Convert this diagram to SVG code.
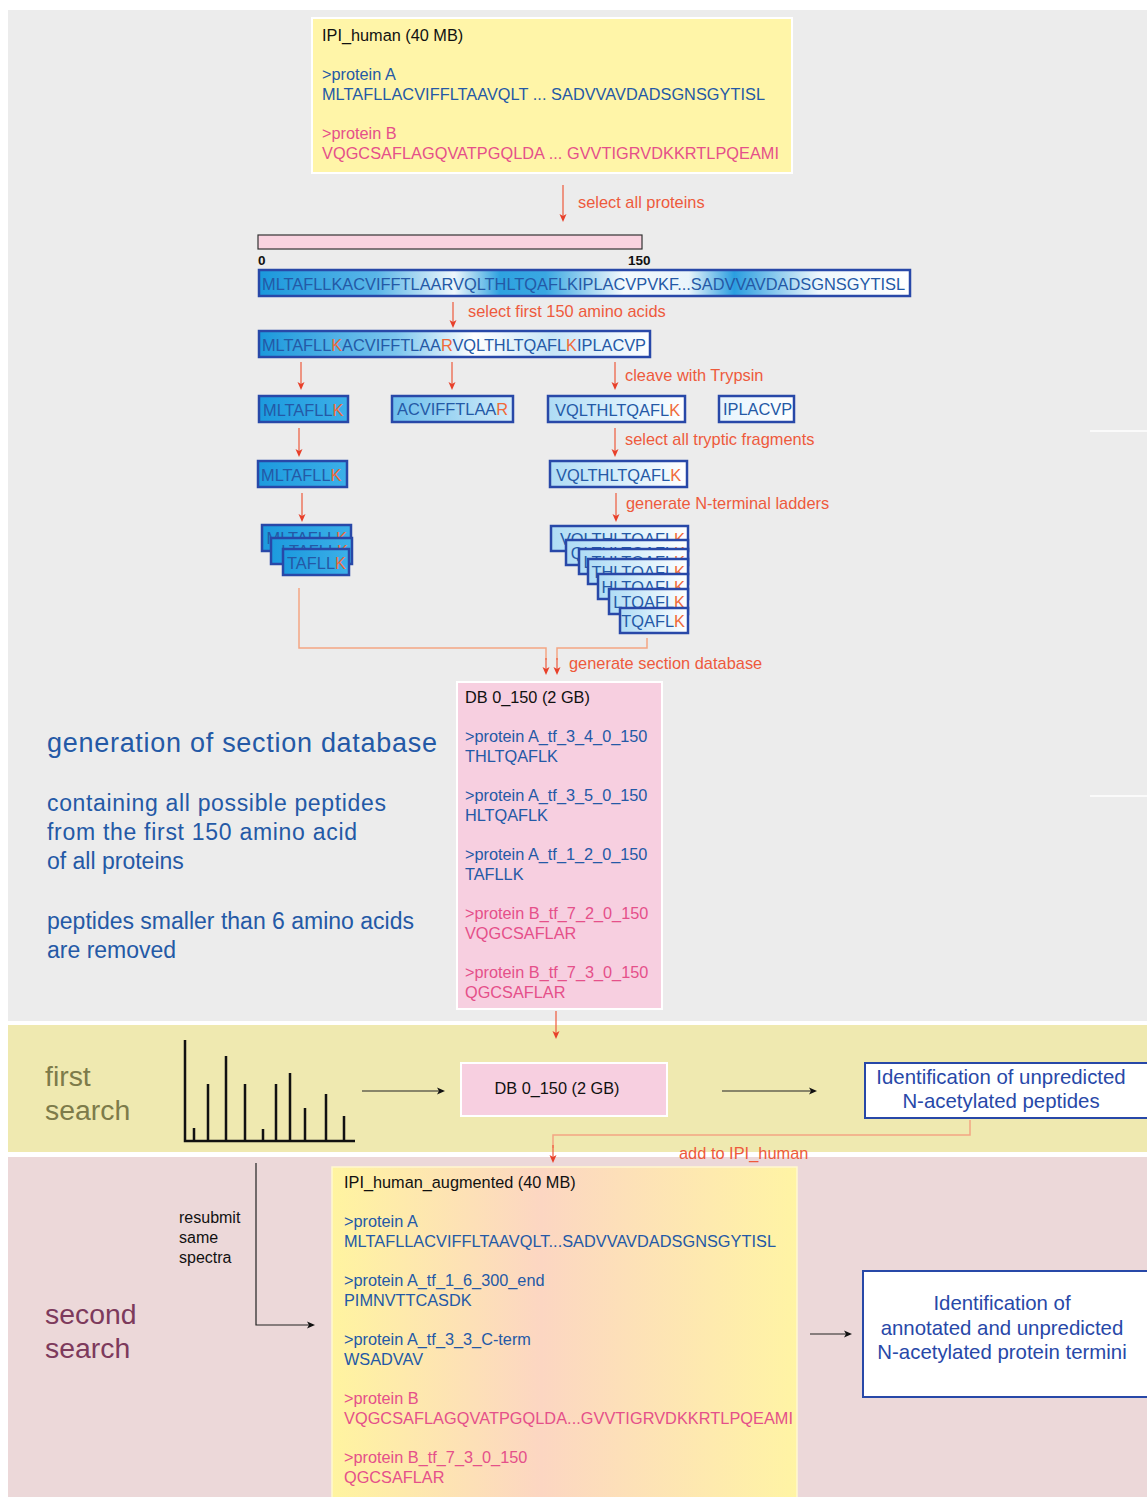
<svg xmlns="http://www.w3.org/2000/svg" width="1147" height="1497" viewBox="0 0 1147 1497">
<style>
text{font-family:"Liberation Sans",Arial,sans-serif}
.blk{fill:#111}
.blu{fill:#2459a6}
.pnk{fill:#e5508a}
.org{fill:#ee5a3c}
.lbl{font-size:16.4px;fill:#ee5a3c}
.db{font-size:16.3px}
.seq{font-size:16.4px;fill:#2459a6}
.k{fill:#f06a3a}
.frag{stroke:#2848a8;stroke-width:2.5}
.rarr{stroke:#ee5a3c;stroke-width:1.2;fill:none;marker-end:url(#ra)}
.oline{stroke:#f4a583;stroke-width:1.5;fill:none}
.barr{stroke:#222;stroke-width:1.2;fill:none;marker-end:url(#ba)}
.big{font-size:28.4px}
.side{font-size:23px;fill:#2459a6}
.idt{font-size:20.4px;fill:#2848a8;text-anchor:middle}
</style>
<defs>
<marker id="ra" markerWidth="9" markerHeight="9" refX="6" refY="4.5" orient="auto" markerUnits="userSpaceOnUse"><path d="M0,1 L8,4.5 L0,8 L2,4.5 z" fill="#e8402a"/></marker>
<marker id="ba" markerWidth="9" markerHeight="9" refX="6" refY="4.5" orient="auto" markerUnits="userSpaceOnUse"><path d="M0,1 L8,4.5 L0,8 L2,4.5 z" fill="#111"/></marker>
<linearGradient id="gFull" x1="0" y1="0" x2="1" y2="0">
<stop offset="0" stop-color="#1a98dc"/><stop offset="0.18" stop-color="#5ab6e8"/><stop offset="0.3" stop-color="#eef7fc"/><stop offset="0.37" stop-color="#2ea2e0"/><stop offset="0.44" stop-color="#3aa8e2"/><stop offset="0.56" stop-color="#f4fafd"/><stop offset="0.66" stop-color="#e8f4fb"/><stop offset="0.73" stop-color="#2a9ee0"/><stop offset="0.86" stop-color="#eef7fc"/><stop offset="1" stop-color="#ffffff"/>
</linearGradient>
<linearGradient id="gHalf" x1="0" y1="0" x2="1" y2="0">
<stop offset="0" stop-color="#1a98dc"/><stop offset="0.35" stop-color="#7cc6ee"/><stop offset="0.55" stop-color="#ffffff"/><stop offset="0.75" stop-color="#c8e6f7"/><stop offset="1" stop-color="#ffffff"/>
</linearGradient>
<linearGradient id="gDark" x1="0" y1="0" x2="1" y2="0">
<stop offset="0" stop-color="#1c9ade"/><stop offset="1" stop-color="#3cb0e8"/>
</linearGradient>
<linearGradient id="gMid" x1="0" y1="0" x2="1" y2="0">
<stop offset="0" stop-color="#6cbfec"/><stop offset="1" stop-color="#d4edfa"/>
</linearGradient>
<linearGradient id="gLight" x1="0" y1="0" x2="1" y2="0">
<stop offset="0" stop-color="#aedcf5"/><stop offset="1" stop-color="#ffffff"/>
</linearGradient>
<linearGradient id="gWhite" x1="0" y1="0" x2="1" y2="0">
<stop offset="0" stop-color="#e6f4fc"/><stop offset="1" stop-color="#ffffff"/>
</linearGradient>
<linearGradient id="gAug" x1="0" y1="0" x2="1" y2="0">
<stop offset="0" stop-color="#fff4a0"/><stop offset="0.45" stop-color="#fcd6c2"/><stop offset="1" stop-color="#fff4a4"/>
</linearGradient>
</defs>

<rect x="0" y="0" width="1147" height="1497" fill="#ffffff"/>
<rect x="8" y="10" width="1139" height="1011" fill="#ececec"/>
<rect x="8" y="1025" width="1139" height="127" fill="#efe9b0"/>
<rect x="8" y="1157" width="1139" height="340" fill="#ecd8d9"/>
<line x1="1090" y1="431" x2="1147" y2="431" stroke="#ffffff" stroke-width="1.5"/>
<line x1="1090" y1="796" x2="1147" y2="796" stroke="#ffffff" stroke-width="1.5"/>

<g id="ipi_human">
<rect x="312" y="18" width="480" height="155" fill="#fff5a8" stroke="#ffffff" stroke-width="2"/>
<text x="322" y="41" class="blk db">IPI_human (40 MB)</text>
<text x="322" y="80" class="blu db">&gt;protein A</text>
<text x="322" y="100" class="blu db" textLength="443">MLTAFLLACVIFFLTAAVQLT ... SADVVAVDADSGNSGYTISL</text>
<text x="322" y="139" class="pnk db">&gt;protein B</text>
<text x="322" y="159" class="pnk db" textLength="457">VQGCSAFLAGQVATPGQLDA ... GVVTIGRVDKKRTLPQEAMI</text>
</g>

<g id="scale">
<rect x="258" y="235" width="384" height="14" fill="#f9d3e0" stroke="#333" stroke-width="1.2"/>
<text x="258" y="265" style="font-size:13.5px;font-weight:bold" class="blk">0</text>
<text x="628" y="265" style="font-size:13.5px;font-weight:bold" class="blk">150</text>
</g>

<g id="full_seq">
<rect x="259" y="270" width="651" height="26" fill="url(#gFull)" class="frag"/>
<text x="262" y="290" class="seq" textLength="643">MLTAFLLKACVIFFTLAARVQLTHLTQAFLKIPLACVPVKF...SADVVAVDADSGNSGYTISL</text>
</g>

<g id="first150">
<rect x="259" y="331" width="391" height="26" fill="url(#gHalf)" class="frag"/>
<text x="262" y="351" class="seq" textLength="384">MLTAFLL<tspan class="k">K</tspan>ACVIFFTLAA<tspan class="k">R</tspan>VQLTHLTQAFL<tspan class="k">K</tspan>IPLACVP</text>
</g>

<g id="frag_mltafllk">
<rect x="259" y="396" width="89" height="26" fill="url(#gDark)" class="frag"/>
<text x="263" y="416" class="seq">MLTAFLL<tspan class="k">K</tspan></text>
</g>
<g id="frag_acvifftlaar">
<rect x="392" y="396" width="121" height="26" fill="url(#gMid)" class="frag"/>
<text x="397" y="415" class="seq">ACVIFFTLAA<tspan class="k">R</tspan></text>
</g>
<g id="frag_vqlthltqaflk">
<rect x="548" y="396" width="137" height="26" fill="url(#gLight)" class="frag"/>
<text x="555" y="416" class="seq">VQLTHLTQAFL<tspan class="k">K</tspan></text>
</g>
<g id="frag_iplacvp">
<rect x="719" y="396" width="75" height="26" fill="url(#gWhite)" class="frag"/>
<text x="723" y="415" class="seq">IPLACVP</text>
</g>

<g id="sel_mltafllk">
<rect x="258" y="461" width="89" height="26" fill="url(#gDark)" class="frag"/>
<text x="261" y="481" class="seq">MLTAFLL<tspan class="k">K</tspan></text>
</g>
<g id="sel_vqlthltqaflk">
<rect x="550" y="461" width="137" height="26" fill="url(#gLight)" class="frag"/>
<text x="556" y="481" class="seq">VQLTHLTQAFL<tspan class="k">K</tspan></text>
</g>

<g id="ladder_left">
<rect x="262" y="525" width="89" height="26" fill="url(#gDark)" class="frag"/>
<text x="347" y="544" class="seq" text-anchor="end">MLTAFLL<tspan class="k">K</tspan></text>
<rect x="271" y="538" width="81" height="26" fill="url(#gDark)" class="frag"/>
<text x="348" y="557" class="seq" text-anchor="end">LTAFLL<tspan class="k">K</tspan></text>
<rect x="283" y="549" width="66" height="26" fill="url(#gDark)" class="frag"/>
<text x="346" y="569" class="seq" text-anchor="end">TAFLL<tspan class="k">K</tspan></text>
</g>

<g id="ladder_right">
<rect x="551" y="526" width="137" height="25" fill="url(#gLight)" class="frag"/>
<text x="685" y="545" class="seq" text-anchor="end">VQLTHLTQAFL<tspan class="k">K</tspan></text>
<rect x="566" y="540" width="122" height="25" fill="url(#gLight)" class="frag"/>
<text x="685" y="559" class="seq" text-anchor="end">QLTHLTQAFL<tspan class="k">K</tspan></text>
<rect x="579" y="549" width="109" height="25" fill="url(#gLight)" class="frag"/>
<text x="685" y="568" class="seq" text-anchor="end">LTHLTQAFL<tspan class="k">K</tspan></text>
<rect x="588" y="559" width="100" height="25" fill="url(#gLight)" class="frag"/>
<text x="685" y="578" class="seq" text-anchor="end">THLTQAFL<tspan class="k">K</tspan></text>
<rect x="598" y="574" width="90" height="25" fill="url(#gLight)" class="frag"/>
<text x="685" y="593" class="seq" text-anchor="end">HLTQAFL<tspan class="k">K</tspan></text>
<rect x="609" y="589" width="79" height="25" fill="url(#gLight)" class="frag"/>
<text x="685" y="608" class="seq" text-anchor="end">LTQAFL<tspan class="k">K</tspan></text>
<rect x="620" y="608" width="68" height="25" fill="url(#gLight)" class="frag"/>
<text x="685" y="627" class="seq" text-anchor="end">TQAFL<tspan class="k">K</tspan></text>
</g>

<g id="db_section">
<rect x="457" y="682" width="205" height="327" fill="#f7cfe0" stroke="#ffffff" stroke-width="2"/>
<text x="465" y="703" class="blk db">DB 0_150 (2 GB)</text>
<text x="465" y="742" class="blu db">&gt;protein A_tf_3_4_0_150</text>
<text x="465" y="762" class="blu db">THLTQAFLK</text>
<text x="465" y="801" class="blu db">&gt;protein A_tf_3_5_0_150</text>
<text x="465" y="821" class="blu db">HLTQAFLK</text>
<text x="465" y="860" class="blu db">&gt;protein A_tf_1_2_0_150</text>
<text x="465" y="880" class="blu db">TAFLLK</text>
<text x="465" y="919" class="pnk db">&gt;protein B_tf_7_2_0_150</text>
<text x="465" y="939" class="pnk db">VQGCSAFLAR</text>
<text x="465" y="978" class="pnk db">&gt;protein B_tf_7_3_0_150</text>
<text x="465" y="998" class="pnk db">QGCSAFLAR</text>
</g>

<g id="section_text">
<text x="47" y="752" class="big" style="font-size:27px" fill="#2459a6" textLength="390">generation of section database</text>
<text x="47" y="811" class="side" textLength="339">containing all possible peptides</text>
<text x="47" y="840" class="side" textLength="310">from the first 150 amino acid</text>
<text x="47" y="869" class="side">of all proteins</text>
<text x="47" y="929" class="side" textLength="367">peptides smaller than 6 amino acids</text>
<text x="47" y="958" class="side">are removed</text>
</g>

<g id="first_search">
<text x="45" y="1086" class="big" fill="#7d7b4a">first</text>
<text x="45" y="1120" class="big" fill="#7d7b4a">search</text>
<g stroke="#111" stroke-width="2.5" fill="none">
<path d="M185,1040 V1141 H355"/>
<path d="M194,1141 V1128 M208,1141 V1084 M226,1141 V1056 M245,1141 V1084 M263,1141 V1129 M276,1141 V1084 M290,1141 V1073 M305,1141 V1108 M326,1141 V1094 M344,1141 V1116"/>
</g>
</g>
<g id="db_box_search">
<rect x="461" y="1063" width="206" height="53" fill="#f7cfe0" stroke="#ffffff" stroke-width="2"/>
<text x="557" y="1094" class="blk db" text-anchor="middle">DB 0_150 (2 GB)</text>
</g>
<g id="ident_peptides">
<rect x="865" y="1063" width="285" height="55" fill="#ffffff" stroke="#2848a8" stroke-width="2"/>
<text x="1001" y="1084" class="idt">Identification of unpredicted</text>
<text x="1001" y="1108" class="idt">N-acetylated peptides</text>
</g>

<g id="second_search">
<text x="45" y="1324" class="big" fill="#7d3a5c">second</text>
<text x="45" y="1358" class="big" fill="#7d3a5c">search</text>
<text x="179" y="1223" class="blk" style="font-size:16px">resubmit</text>
<text x="179" y="1243" class="blk" style="font-size:16px">same</text>
<text x="179" y="1263" class="blk" style="font-size:16px">spectra</text>
</g>
<g id="ipi_augmented">
<rect x="332" y="1167" width="465" height="332" fill="url(#gAug)" stroke="#fff8d0" stroke-width="1.5"/>
<text x="344" y="1188" class="blk db">IPI_human_augmented (40 MB)</text>
<text x="344" y="1227" class="blu db">&gt;protein A</text>
<text x="344" y="1247" class="blu db" textLength="432">MLTAFLLACVIFFLTAAVQLT...SADVVAVDADSGNSGYTISL</text>
<text x="344" y="1286" class="blu db">&gt;protein A_tf_1_6_300_end</text>
<text x="344" y="1306" class="blu db">PIMNVTTCASDK</text>
<text x="344" y="1345" class="blu db">&gt;protein A_tf_3_3_C-term</text>
<text x="344" y="1365" class="blu db">WSADVAV</text>
<text x="344" y="1404" class="pnk db">&gt;protein B</text>
<text x="344" y="1424" class="pnk db" textLength="449">VQGCSAFLAGQVATPGQLDA...GVVTIGRVDKKRTLPQEAMI</text>
<text x="344" y="1463" class="pnk db">&gt;protein B_tf_7_3_0_150</text>
<text x="344" y="1483" class="pnk db">QGCSAFLAR</text>
</g>
<g id="ident_termini">
<rect x="863" y="1271" width="286" height="126" fill="#ffffff" stroke="#2848a8" stroke-width="2"/>
<text x="1002" y="1310" class="idt">Identification of</text>
<text x="1002" y="1335" class="idt">annotated and unpredicted</text>
<text x="1002" y="1359" class="idt">N-acetylated protein termini</text>
</g>

<g id="connectors">
<line x1="563" y1="185" x2="563" y2="220" class="rarr"/>
<text x="578" y="208" class="lbl">select all proteins</text>
<line x1="453" y1="302" x2="453" y2="326" class="rarr"/>
<text x="468" y="317" class="lbl">select first 150 amino acids</text>
<line x1="301" y1="362" x2="301" y2="388" class="rarr"/>
<line x1="452" y1="362" x2="452" y2="388" class="rarr"/>
<line x1="615" y1="362" x2="615" y2="388" class="rarr"/>
<text x="625" y="381" class="lbl">cleave with Trypsin</text>
<line x1="299" y1="428" x2="299" y2="455" class="rarr"/>
<line x1="615" y1="428" x2="615" y2="455" class="rarr"/>
<text x="625" y="445" class="lbl">select all tryptic fragments</text>
<line x1="302" y1="493" x2="302" y2="520" class="rarr"/>
<line x1="616" y1="493" x2="616" y2="520" class="rarr"/>
<text x="626" y="509" class="lbl">generate N-terminal ladders</text>
<path d="M299,588 V648 H546 V660" class="oline"/>
<path d="M647,638 V648 H557 V660" class="oline"/>
<line x1="546" y1="658" x2="546" y2="673" class="rarr"/>
<line x1="557" y1="658" x2="557" y2="673" class="rarr"/>
<text x="569" y="669" class="lbl">generate section database</text>
<line x1="556" y1="1011" x2="556" y2="1037" class="rarr"/>
<line x1="362" y1="1091" x2="443" y2="1091" class="barr"/>
<line x1="722" y1="1091" x2="815" y2="1091" class="barr"/>
<path d="M970,1120 V1135 H553 V1148" class="oline"/>
<line x1="553" y1="1145" x2="553" y2="1161" class="rarr"/>
<text x="679" y="1159" class="lbl">add to IPI_human</text>
<path d="M256,1163 V1325 H313" class="barr" stroke="#444"/>
<line x1="810" y1="1334" x2="850" y2="1334" class="barr"/>
</g>
</svg>
